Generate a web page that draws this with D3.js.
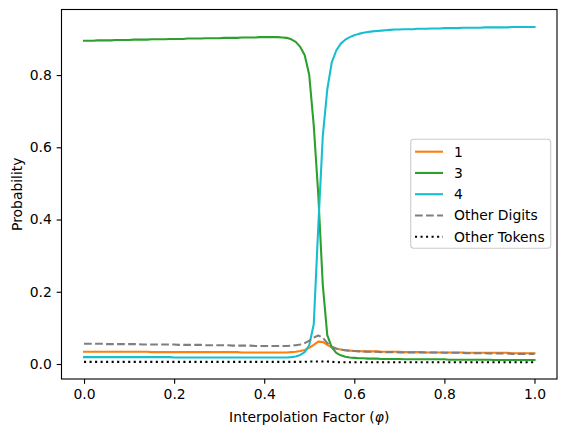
<!DOCTYPE html>
<html><head><meta charset="utf-8">
<script src="https://cdn.jsdelivr.net/npm/d3@7"></script>
<style>
body{margin:0;background:#fff;}
svg{display:block;font-family:"DejaVu Sans",sans-serif;}
</style></head>
<body><svg id="c" width="567" height="436"></svg>
<script>
const phi = [0.00,0.01,0.02,0.03,0.04,0.05,0.06,0.07,0.08,0.09,
0.10,0.11,0.12,0.13,0.14,0.15,0.16,0.17,0.18,0.19,
0.20,0.21,0.22,0.23,0.24,0.25,0.26,0.27,0.28,0.29,
0.30,0.31,0.32,0.33,0.34,0.35,0.36,0.37,0.38,0.39,
0.40,0.41,0.42,0.43,0.44,0.45,0.46,0.47,0.48,0.49,
0.50,0.51,0.52,0.53,0.54,0.55,0.56,0.57,0.58,0.59,
0.60,0.61,0.62,0.63,0.64,0.65,0.66,0.67,0.68,0.69,
0.70,0.71,0.72,0.73,0.74,0.75,0.76,0.77,0.78,0.79,
0.80,0.81,0.82,0.83,0.84,0.85,0.86,0.87,0.88,0.89,
0.90,0.91,0.92,0.93,0.94,0.95,0.96,0.97,0.98,0.99,1.00];

const digit1 = [0.034,0.034,0.034,0.034,0.034,0.034,0.034,0.034,0.034,0.034,
0.034,0.034,0.034,0.034,0.034,0.033,0.033,0.033,0.033,0.033,
0.033,0.033,0.033,0.033,0.033,0.033,0.033,0.033,0.033,0.033,
0.033,0.033,0.033,0.033,0.033,0.032,0.032,0.032,0.032,0.032,
0.032,0.032,0.032,0.032,0.032,0.032,0.033,0.034,0.036,0.039,
0.045,0.053,0.062,0.061,0.053,0.046,0.042,0.040,0.038,0.037,
0.036,0.036,0.035,0.035,0.035,0.035,0.034,0.034,0.034,0.034,
0.034,0.033,0.033,0.033,0.033,0.033,0.032,0.032,0.032,0.032,
0.032,0.032,0.032,0.032,0.032,0.031,0.031,0.031,0.031,0.031,
0.031,0.031,0.031,0.031,0.031,0.030,0.030,0.030,0.030,0.030,0.030];

const digit3 = [0.895,0.895,0.895,0.896,0.896,0.896,0.896,0.897,0.897,0.897,
0.897,0.898,0.898,0.898,0.898,0.899,0.899,0.899,0.899,0.900,
0.900,0.900,0.900,0.901,0.901,0.901,0.901,0.902,0.902,0.902,
0.902,0.903,0.903,0.903,0.903,0.904,0.904,0.904,0.904,0.905,
0.905,0.905,0.905,0.905,0.904,0.903,0.899,0.892,0.878,0.855,
0.800,0.660,0.470,0.220,0.080,0.046,0.031,0.024,0.020,0.018,
0.017,0.016,0.016,0.015,0.015,0.015,0.014,0.014,0.014,0.014,
0.014,0.013,0.013,0.013,0.013,0.013,0.013,0.013,0.013,0.013,
0.013,0.012,0.012,0.012,0.012,0.012,0.012,0.012,0.012,0.012,
0.012,0.011,0.011,0.011,0.011,0.011,0.011,0.011,0.011,0.011,0.011];

const digit4 = [0.019,0.019,0.019,0.019,0.019,0.019,0.019,0.019,0.019,0.019,
0.019,0.019,0.019,0.019,0.019,0.019,0.019,0.019,0.019,0.019,
0.018,0.018,0.018,0.018,0.018,0.018,0.018,0.018,0.018,0.018,
0.018,0.018,0.018,0.018,0.018,0.018,0.018,0.018,0.018,0.018,
0.018,0.018,0.018,0.018,0.018,0.018,0.019,0.021,0.025,0.033,
0.052,0.110,0.380,0.630,0.760,0.835,0.868,0.887,0.898,0.905,
0.910,0.914,0.917,0.919,0.921,0.922,0.923,0.924,0.925,0.926,
0.926,0.927,0.927,0.927,0.928,0.928,0.928,0.929,0.929,0.929,
0.930,0.930,0.930,0.930,0.931,0.931,0.931,0.931,0.931,0.932,
0.932,0.932,0.932,0.932,0.932,0.933,0.933,0.933,0.933,0.933,0.933];

const otherDigits = [0.056,0.056,0.056,0.056,0.056,0.055,0.055,0.055,0.055,0.055,
0.055,0.055,0.055,0.054,0.054,0.054,0.054,0.054,0.054,0.054,
0.054,0.053,0.053,0.053,0.053,0.053,0.053,0.052,0.052,0.052,
0.052,0.052,0.052,0.051,0.051,0.051,0.051,0.051,0.050,0.050,
0.050,0.050,0.050,0.050,0.050,0.050,0.051,0.052,0.054,0.058,
0.065,0.073,0.079,0.073,0.058,0.048,0.043,0.040,0.038,0.037,
0.036,0.035,0.035,0.034,0.034,0.034,0.033,0.033,0.033,0.033,
0.032,0.032,0.032,0.032,0.032,0.032,0.032,0.032,0.032,0.032,
0.031,0.031,0.031,0.031,0.031,0.030,0.030,0.030,0.030,0.030,
0.029,0.029,0.029,0.029,0.029,0.028,0.028,0.028,0.028,0.028,0.028];

const otherTokens = [0.006,0.006,0.006,0.006,0.006,0.006,0.006,0.006,0.006,0.006,
0.006,0.006,0.006,0.006,0.006,0.006,0.006,0.006,0.006,0.006,
0.006,0.006,0.006,0.006,0.006,0.006,0.006,0.006,0.006,0.006,
0.006,0.006,0.006,0.006,0.006,0.006,0.006,0.006,0.006,0.006,
0.006,0.006,0.006,0.006,0.006,0.006,0.006,0.006,0.006,0.006,
0.007,0.007,0.007,0.007,0.007,0.006,0.005,0.005,0.005,0.005,
0.005,0.005,0.005,0.005,0.005,0.005,0.005,0.005,0.005,0.005,
0.005,0.005,0.005,0.005,0.005,0.005,0.005,0.005,0.005,0.005,
0.005,0.005,0.005,0.005,0.005,0.005,0.005,0.005,0.005,0.005,
0.005,0.005,0.005,0.005,0.005,0.005,0.005,0.005,0.005,0.005,0.005];

const seriesNames = ["1","3","4","Other Digits","Other Tokens"];
const seriesValues = [digit1, digit3, digit4, otherDigits, otherTokens];
const seriesColors = ["#ff7f0e","#2ca02c","#17becf","#7f7f7f","#000000"];
const seriesDash = [null, null, null, "7.7,3.33", "2.08,3.44"];
const xTicks = [0.0,0.2,0.4,0.6,0.8,1.0];
const yTicks = [0.0,0.2,0.4,0.6,0.8];
const xLabel = "Interpolation Factor (";
const yLabel = "Probability";

const FS = 13.9;
const L = 61.5, R = 557, T = 9.5, B = 379;
const svg = d3.select("#c");
const x = d3.scaleLinear().domain([-0.05, 1.05]).range([L, R]);
const y = d3.scaleLinear().domain([-0.0415, 0.9815]).range([B, T]);

const lw = 2.08;
const line = d3.line().x(d => x(d[0])).y(d => y(d[1]));
seriesValues.forEach((vals, i) => {
  svg.append("path")
    .datum(phi.map((p, j) => [p, vals[j]]))
    .attr("d", line)
    .attr("fill", "none")
    .attr("stroke", seriesColors[i])
    .attr("stroke-width", lw)
    .attr("stroke-linejoin", "round")
    .attr("stroke-linecap", seriesDash[i] ? "butt" : "square")
    .attr("stroke-dasharray", seriesDash[i]);
});

// frame
svg.append("rect").attr("x", L).attr("y", T).attr("width", R - L).attr("height", B - T)
  .attr("fill", "none").attr("stroke", "#000").attr("stroke-width", 1.11);

// axes
const fmt = d3.format(".1f");
const xAxis = d3.axisBottom(x).tickValues(xTicks).tickFormat(fmt).tickSize(4.86).tickPadding(4.86);
const yAxis = d3.axisLeft(y).tickValues(yTicks).tickFormat(fmt).tickSize(4.86).tickPadding(4.86);
const gx = svg.append("g").attr("transform", `translate(0,${B})`).call(xAxis);
const gy = svg.append("g").attr("transform", `translate(${L},0)`).call(yAxis);
[gx, gy].forEach(g => {
  g.select(".domain").remove();
  g.selectAll(".tick line").attr("stroke", "#000").attr("stroke-width", 1.11);
  g.selectAll(".tick text").attr("fill", "#000").attr("font-size", FS)
    .attr("font-family", "DejaVu Sans");
});

// axis labels
const xl = svg.append("text").attr("x", (L + R) / 2).attr("y", 421.8)
  .attr("text-anchor", "middle").attr("font-size", FS).attr("fill", "#000");
xl.append("tspan").text(xLabel);
xl.append("tspan").attr("font-style", "italic").text("φ");
xl.append("tspan").text(")");

svg.append("text").attr("transform", `translate(21.7,${(T + B) / 2}) rotate(-90)`)
  .attr("text-anchor", "middle").attr("font-size", FS).attr("fill", "#000").text(yLabel);

// legend
const lg = svg.append("g");
lg.append("rect").attr("x", 410.7).attr("y", 139.3).attr("width", 140).attr("height", 109)
  .attr("rx", 3).attr("fill", "#fff").attr("fill-opacity", 0.8)
  .attr("stroke", "#cccccc").attr("stroke-width", 1.11);
const rowY = d3.scaleLinear().domain([0, 4]).range([151.7, 236.7]);
seriesNames.forEach((n, i) => {
  const yy = rowY(i);
  lg.append("line").attr("x1", 415).attr("x2", 443).attr("y1", yy).attr("y2", yy)
    .attr("stroke", seriesColors[i]).attr("stroke-width", lw)
    .attr("stroke-dasharray", seriesDash[i]);
  lg.append("text").attr("x", 454).attr("y", yy).attr("dy", "0.36em")
    .attr("font-size", FS).attr("fill", "#000").text(n);
});
</script></body></html>
